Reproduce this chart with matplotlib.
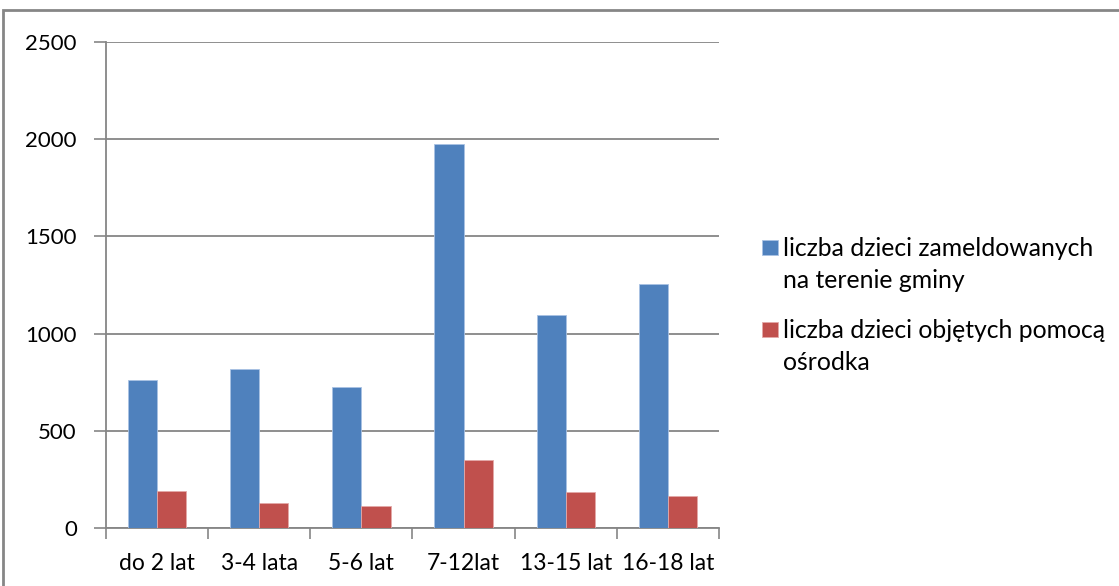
import numpy as np
import matplotlib.pyplot as plt
from matplotlib.patches import Rectangle

categories = ["do 2 lat", "3-4 lata", "5-6 lat", "7-12lat", "13-15 lat", "16-18 lat"]
zameldowane = [759, 817, 725, 1974, 1095, 1254]
objete = [192, 127, 113, 350, 185, 165]
labels = ["liczba dzieci zameldowanych\nna terenie gminy",
          "liczba dzieci objętych pomocą\nośrodka"]
colors = ["#4F81BD", "#C0504D"]
edges = ["#A9C2E3", "#E3A9A8"]

plt.rcParams['font.family'] = ['Lato', 'DejaVu Sans']

W, H = 1119, 586
fig = plt.figure(figsize=(W / 100, H / 100), dpi=100)
ax = fig.add_axes([106 / W, 58 / H, 613 / W, 486 / H])

x = np.arange(len(categories))
w = 1 / 3.5
ax.bar(x - w / 2, zameldowane, w, color=colors[0], edgecolor=edges[0],
       linewidth=0.6, zorder=3)
ax.bar(x + w / 2, objete, w, color=colors[1], edgecolor=edges[1],
       linewidth=0.6, zorder=3)

ax.set_xlim(-0.5, len(categories) - 0.5)
ax.set_ylim(0, 2500)
ax.set_yticks(np.arange(0, 2501, 500))
ax.set_xticks(x)
ax.set_xticklabels(categories)
ax.set_xticks(np.arange(-0.5, len(categories)), minor=True)
ax.tick_params(axis='x', which='major', length=0, pad=18, labelsize=16.5, colors='#000000')
ax.tick_params(axis='x', which='minor', length=8, width=1.2, color='#868686', direction='out')
ax.tick_params(axis='y', length=9, width=1.2, color='#868686', pad=12, labelsize=16)
ax.yaxis.grid(True, color='#868686', linewidth=1.3, zorder=0)
for s in ['top', 'right']:
    ax.spines[s].set_visible(False)
for s in ['left', 'bottom']:
    ax.spines[s].set_color('#868686')
    ax.spines[s].set_linewidth(1.3)

# legend: square aligned with the first line of each label
leg_top = [240, 322]
for i in range(2):
    y0 = leg_top[i]
    fig.patches.append(Rectangle((762 / W, 1 - (y0 + 15) / H), 16 / W, 15 / H,
                                 transform=fig.transFigure, facecolor=colors[i],
                                 edgecolor=edges[i], linewidth=0.6))
    for j, line in enumerate(labels[i].split("\n")):
        fig.text(783 / W, 1 - (y0 + 15.5 + 32.5 * j) / H, line, fontsize=17.8,
                 va='baseline', ha='left')

# outer chart border
fig.patches.append(Rectangle((3 / W, -0.05), 1.2, 1 - 10 / H + 0.05,
                             transform=fig.transFigure, fill=False,
                             edgecolor='#868686', linewidth=2))

fig.savefig("out.png", dpi=100)
